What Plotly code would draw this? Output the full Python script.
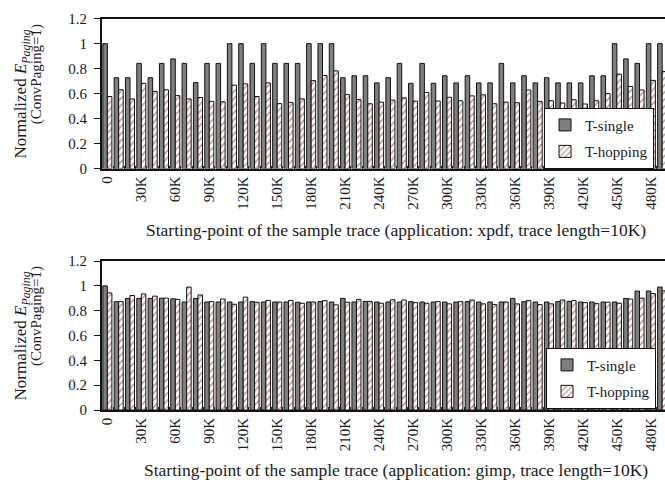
import plotly.graph_objects as go
from plotly.subplots import make_subplots

categories = ["0", "10K", "20K", "30K", "40K", "50K", "60K", "70K", "80K", "90K",
              "100K", "110K", "120K", "130K", "140K", "150K", "160K", "170K", "180K", "190K",
              "200K", "210K", "220K", "230K", "240K", "250K", "260K", "270K", "280K", "290K",
              "300K", "310K", "320K", "330K", "340K", "350K", "360K", "370K", "380K", "390K",
              "400K", "410K", "420K", "430K", "440K", "450K", "460K", "470K", "480K", "490K"]

tick_labels = ["0", "30K", "60K", "90K", "120K", "150K", "180K", "210K", "240K",
               "270K", "300K", "330K", "360K", "390K", "420K", "450K", "480K"]

xpdf_single = [1.0, 0.727, 0.727, 0.842, 0.727, 0.842, 0.878, 0.842, 0.688, 0.842,
               0.842, 1.0, 1.0, 0.842, 1.0, 0.842, 0.842, 0.842, 1.0, 1.0,
               1.0, 0.727, 0.743, 0.743, 0.686, 0.727, 0.842, 0.683, 0.842, 0.683,
               0.743, 0.686, 0.743, 0.686, 0.686, 0.842, 0.686, 0.743, 0.686, 0.727,
               0.686, 0.686, 0.686, 0.743, 0.743, 1.0, 0.878, 0.842, 1.0, 1.0]
xpdf_hopping = [0.577, 0.631, 0.558, 0.683, 0.618, 0.631, 0.584, 0.558, 0.569, 0.538,
                0.535, 0.668, 0.678, 0.577, 0.686, 0.520, 0.530, 0.558, 0.704, 0.745,
                0.782, 0.592, 0.553, 0.519, 0.532, 0.548, 0.566, 0.540, 0.610, 0.540,
                0.571, 0.543, 0.582, 0.590, 0.519, 0.532, 0.527, 0.629, 0.538, 0.543,
                0.525, 0.551, 0.517, 0.543, 0.600, 0.756, 0.657, 0.629, 0.706, 0.777]

gimp_single = [1.0, 0.873, 0.899, 0.899, 0.899, 0.901, 0.896, 0.870, 0.899, 0.870,
               0.870, 0.870, 0.870, 0.873, 0.870, 0.870, 0.870, 0.868, 0.870, 0.873,
               0.870, 0.899, 0.870, 0.875, 0.870, 0.870, 0.870, 0.873, 0.870, 0.870,
               0.870, 0.870, 0.873, 0.870, 0.870, 0.870, 0.899, 0.873, 0.870, 0.870,
               0.873, 0.875, 0.870, 0.870, 0.870, 0.870, 0.899, 0.958, 0.958, 0.990]
gimp_hopping = [0.943, 0.873, 0.922, 0.935, 0.917, 0.901, 0.891, 0.990, 0.927, 0.873,
                0.894, 0.852, 0.909, 0.868, 0.883, 0.870, 0.883, 0.860, 0.870, 0.881,
                0.847, 0.868, 0.891, 0.875, 0.860, 0.888, 0.886, 0.865, 0.860, 0.873,
                0.855, 0.873, 0.886, 0.855, 0.849, 0.870, 0.855, 0.883, 0.849, 0.855,
                0.886, 0.881, 0.865, 0.857, 0.868, 0.860, 0.894, 0.901, 0.938, 0.960]

series_names = ["T-single", "T-hopping"]
x_titles = ["Starting-point of the sample trace (application: xpdf, trace length=10K)",
            "Starting-point of the sample trace (application: gimp, trace length=10K)"]

W, H = 665, 494
FONT = "Liberation Serif, Times New Roman, serif"
TXT = "#1a1a1a"

fig = make_subplots(rows=2, cols=1)

panels = [(xpdf_single, xpdf_hopping), (gimp_single, gimp_hopping)]
for i, (s, h) in enumerate(panels):
    leg = "legend" if i == 0 else "legend2"
    fig.add_trace(go.Bar(x=categories, y=s, name=series_names[0],
                         marker=dict(color="#7f7f7f", line=dict(color="#111", width=1)),
                         legend=leg, legendgroup=f"s{i}"), row=i + 1, col=1)
    fig.add_trace(go.Bar(x=categories, y=h, name=series_names[1],
                         marker=dict(color="white", line=dict(color="#111", width=1),
                                     pattern=dict(shape="/", fgcolor="#8b2323", bgcolor="white",
                                                  size=5, solidity=0.3)),
                         legend=leg, legendgroup=f"h{i}"), row=i + 1, col=1)

ticktext = [c if c in tick_labels else "" for c in categories]

x0 = 100 / W
tops = [11, 261.5]
bots = [166, 415.5]
for i in range(2):
    ax = "xaxis" if i == 0 else "xaxis2"
    ay = "yaxis" if i == 0 else "yaxis2"
    fig.layout[ax].update(
        domain=[x0, 1.0], type="category", range=[-0.5, 49.25],
        tickmode="array", tickvals=categories, ticktext=ticktext,
        tickangle=-90, tickson="boundaries", ticks="inside", ticklen=3,
        tickcolor="#222", showline=True, linecolor="#111", linewidth=1.5,
        mirror=True, showgrid=False, zeroline=False,
        tickfont=dict(family=FONT, size=15, color=TXT))
    fig.layout[ay].update(
        domain=[1 - bots[i] / H, 1 - tops[i] / H], range=[0, 1.2], dtick=0.2,
        tick0=0, ticks="outside", ticklen=6, tickcolor="#111", showline=True,
        linecolor="#111", linewidth=1.5, showgrid=False, zeroline=False,
        tickfont=dict(family=FONT, size=15, color=TXT), ticklabelstandoff=4)

    mid = (tops[i] + bots[i]) / 2
    fig.add_annotation(x=20 / W, y=1 - mid / H, xref="paper", yref="paper",
                       xanchor="center", yanchor="middle",
                       text="Normalized <i>E</i><sub><i>Paging</i></sub>", textangle=-90,
                       showarrow=False, font=dict(family=FONT, size=17, color=TXT))
    fig.add_annotation(x=34 / W, y=1 - (mid - 20) / H, xref="paper", yref="paper",
                       xanchor="center", yanchor="middle",
                       text="(ConvPaging=1)", textangle=-90,
                       showarrow=False, font=dict(family=FONT, size=15, color=TXT))
    ty = 229 if i == 0 else 477
    fig.add_annotation(x=395 / W, y=1 - ty / H, xref="paper", yref="paper",
                       xanchor="center", yanchor="middle",
                       text=x_titles[i], showarrow=False,
                       font=dict(family=FONT, size=17.5, color=TXT))

legend_style = dict(xanchor="right", yanchor="top", bgcolor="white",
                    bordercolor="#111", borderwidth=1, tracegroupgap=4, itemwidth=30,
                    font=dict(family=FONT, size=15, color=TXT))
fig.update_layout(
    width=W, height=H, margin=dict(l=0, r=0, t=0, b=0),
    paper_bgcolor="white", plot_bgcolor="white",
    barmode="group", bargap=0.2, bargroupgap=0.0,
    legend=dict(x=654 / W, y=1 - 103 / H, **legend_style),
    legend2=dict(x=656 / W, y=1 - 351 / H, **legend_style),
    showlegend=True,
)

fig.write_html("out.html", config={"displayModeBar": False},
               post_script="document.body.style.margin='0';")
